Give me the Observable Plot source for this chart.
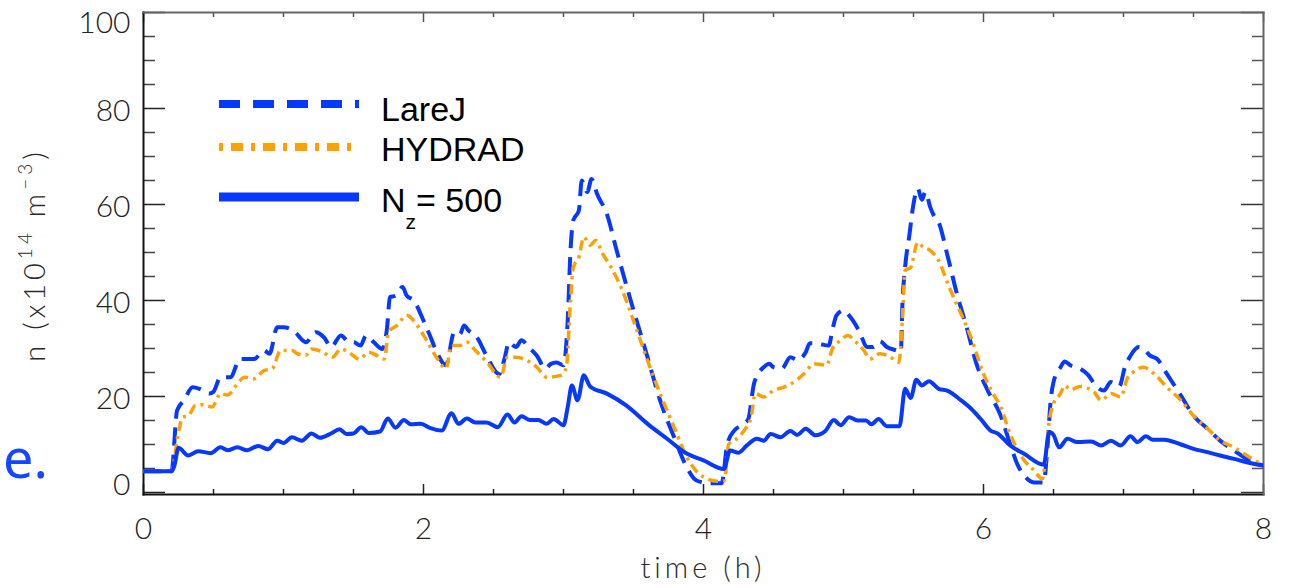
<!DOCTYPE html>
<html><head><meta charset="utf-8">
<script src="https://cdn.jsdelivr.net/npm/d3@7"></script>
<script src="https://cdn.jsdelivr.net/npm/@observablehq/plot@0.6"></script>
<style>
body{margin:0;background:#fff;}
#chart{position:relative;width:1289px;height:588px;}
</style></head><body><div id="chart"></div>
<script>
// ---- data (time in hours, density in 1e14 m^-3) ----
const larejT = [0,0.2,0.24,0.29,0.35,0.4,0.47,0.5,0.55,0.62,0.69,0.79,0.86,0.9,0.955,1.0,1.07,1.16,1.23,1.29,1.34,1.41,1.47,1.5,1.55,1.59,1.645,1.705,1.74,1.76,1.8,1.85,1.88,1.93,2.0,2.05,2.1,2.16,2.22,2.26,2.29,2.32,2.38,2.45,2.54,2.58,2.61,2.66,2.7,2.75,2.81,2.87,2.91,2.95,3.0,3.03,3.05,3.07,3.11,3.13,3.17,3.2,3.24,3.31,3.38,3.48,3.6,3.69,3.79,3.88,3.95,4.05,4.13,4.17,4.22,4.29,4.32,4.36,4.39,4.43,4.47,4.5,4.56,4.62,4.67,4.73,4.76,4.82,4.895,4.92,4.95,5.0,5.05,5.11,5.17,5.21,5.26,5.31,5.38,5.41,5.42,5.44,5.47,5.5,5.53,5.56,5.585,5.62,5.645,5.68,5.74,5.81,5.88,5.95,6.03,6.12,6.19,6.24,6.3,6.36,6.43,6.455,6.48,6.5,6.55,6.58,6.62,6.69,6.75,6.8,6.86,6.91,6.97,7.01,7.05,7.11,7.14,7.19,7.24,7.31,7.41,7.5,7.6,7.69,7.79,7.88,8.0];
const larejN = [4.4,4.4,17.1,19.2,21.9,21.6,20.6,21.0,24.0,24.0,27.8,27.8,29.6,28.9,34.4,34.4,33.75,31.3,33.4,32.3,30.3,32.7,31.3,31.3,30.6,32.7,31.3,29.9,34.4,40.7,41.0,42.8,41.0,40.0,35.8,32.4,28.9,26.5,33.4,33.0,34.8,33.8,32.4,28.5,24.7,28.0,31.3,30.3,31.7,30.3,28.5,25.8,26.8,27.1,26.5,35.8,50.4,56.7,58.75,65.0,62.6,65.3,62.2,58.0,50.4,40.0,28.2,19.2,11.5,5.3,2.5,1.9,1.9,10.1,12.9,14.3,15.3,22.6,24.7,26.1,26.8,26.1,25.8,28.2,27.6,29.2,31.1,31.0,30.6,33.75,36.9,37.9,36.5,33.75,30.3,30.3,31.5,30.3,29.6,29.3,38.6,46.9,53.5,60.1,63.3,61.0,62.6,59.4,57.7,56.3,49.7,41.4,34.4,26.8,21.25,16.2,10.1,6.0,3.2,2.1,2.1,8.75,19.2,23.0,26.1,27.3,26.5,25.8,24.4,22.3,21.25,23.0,22.1,26.1,28.5,30.3,30.0,28.5,27.8,24.7,20.2,16.0,13.3,10.8,8.75,7.0,5.6];

const hydradT = [0,0.2,0.25,0.28,0.32,0.37,0.42,0.49,0.55,0.6,0.67,0.72,0.79,0.86,0.92,0.98,1.06,1.1,1.16,1.2,1.27,1.35,1.41,1.48,1.54,1.61,1.65,1.72,1.75,1.81,1.88,1.955,2.03,2.1,2.16,2.2,2.26,2.31,2.37,2.455,2.55,2.6,2.66,2.74,2.81,2.88,2.98,3.02,3.05,3.07,3.11,3.145,3.19,3.23,3.28,3.34,3.41,3.5,3.6,3.69,3.79,3.88,4.0,4.1,4.15,4.18,4.22,4.29,4.34,4.37,4.43,4.5,4.58,4.67,4.72,4.79,4.88,4.92,4.98,5.03,5.09,5.145,5.19,5.26,5.33,5.395,5.42,5.44,5.48,5.53,5.57,5.62,5.68,5.75,5.84,5.91,6.0,6.07,6.12,6.19,6.29,6.36,6.42,6.44,6.47,6.5,6.55,6.58,6.62,6.69,6.79,6.84,6.91,6.98,7.03,7.07,7.14,7.22,7.31,7.41,7.5,7.6,7.69,7.79,7.88,8.0];
const hydradN = [4.4,4.4,12.6,15.7,16.0,18.1,18.3,17.8,20.6,20.3,22.6,24.0,23.7,25.4,25.8,29.6,29.6,28.9,28.6,29.9,29.4,28.2,29.9,28.9,27.8,29.2,28.8,27.8,33.4,34.8,36.9,34.8,31.3,27.8,25.8,30.6,30.6,31.3,29.6,27.1,24.0,28.2,28.2,27.5,26.1,24.0,24.4,26.0,40.0,46.9,49.0,53.2,51.5,52.5,49.7,46.9,42.8,35.8,27.5,20.6,13.6,7.4,3.2,2.35,2.5,10.1,10.8,12.9,15.7,20.6,19.9,21.25,22.0,23.5,24.8,26.8,26.5,29.9,31.7,32.7,31.3,29.6,27.8,28.9,28.3,27.1,35.8,46.25,46.9,52.1,51.1,50.4,48.3,43.1,37.2,32.4,24.7,20.5,18.0,12.2,6.7,4.6,2.85,6.0,15.0,18.5,20.6,22.3,21.4,22.1,20.9,19.2,20.6,19.9,24.0,25.1,26.1,24.7,21.9,19.2,16.0,13.3,10.8,9.4,7.7,5.6];

const nzT = [0,0.2,0.22,0.25,0.32,0.39,0.48,0.55,0.6,0.67,0.74,0.82,0.89,0.955,1.0,1.06,1.13,1.2,1.26,1.34,1.4,1.45,1.5,1.555,1.61,1.69,1.745,1.8,1.86,1.91,1.98,2.05,2.13,2.2,2.25,2.31,2.37,2.45,2.53,2.6,2.65,2.7,2.76,2.82,2.88,2.93,3.0,3.03,3.06,3.1,3.145,3.19,3.31,3.45,3.6,3.74,3.88,4.0,4.145,4.19,4.25,4.31,4.38,4.43,4.48,4.55,4.62,4.67,4.73,4.8,4.87,4.93,4.98,5.04,5.1,5.16,5.2,5.25,5.31,5.4,5.44,5.48,5.52,5.56,5.61,5.68,5.74,5.84,5.91,5.98,6.05,6.1,6.19,6.29,6.43,6.47,6.5,6.54,6.6,6.67,6.77,6.84,6.91,6.98,7.05,7.1,7.16,7.21,7.29,7.41,7.5,7.6,7.69,7.79,7.88,8.0];
const nzN = [4.4,4.4,5.5,9.3,7.7,8.6,8.2,9.4,8.8,9.4,8.8,9.7,9.0,10.8,10.3,11.5,10.8,12.3,11.4,12.3,13.2,12.2,12.3,13.6,12.4,12.7,15.4,13.5,15.1,14.2,14.3,13.4,12.9,16.5,14.3,15.4,14.6,14.6,13.6,16.25,14.6,15.9,15.1,15.1,14.3,15.3,14.0,17.8,22.3,19.2,24.4,22.1,20.6,18.1,14.3,11.2,8.1,6.7,4.9,8.75,8.3,9.8,11.2,10.8,12.2,11.5,12.8,12.0,13.3,11.9,12.8,15.1,14.0,15.7,15.0,15.0,14.2,15.3,13.8,13.8,21.6,19.7,23.5,22.3,23.2,21.6,21.2,19.2,17.5,15.3,12.9,12.3,9.8,8.06,5.8,12.6,12.0,9.4,11.2,10.5,10.6,9.8,10.8,9.8,11.7,10.5,11.7,11.0,11.0,10.0,9.1,8.4,7.7,7.0,6.3,5.6];

const xMajorTicks = [0,2,4,6,8];
const xMinorTicks = [0.5,1,1.5,2.5,3,3.5,4.5,5,5.5,6.5,7,7.5];
const yMajorTicks = [0,20,40,60,80,100];
const yMinorTicks = [5,10,15,25,30,35,45,50,55,65,70,75,85,90,95];
const seriesNames = ["LareJ","HYDRAD","N_z= 500"];

const toRows = (T, N) => T.map((t, i) => ({t, n: N[i]}));
const larej = toRows(larejT, larejN);
const hydrad = toRows(hydradT, hydradN);
const nz = toRows(nzT, nzN);

const W = 1289, H = 588;
const mL = 143, mR = 26, mT = 12, mB = 94;
const pw = W - mL - mR, ph = H - mT - mB;
const BLUE = "#0638ff", ORANGE = "#ffa000";
const TF = "Lato, 'DejaVu Sans', sans-serif";

const axStyle = {tickSize: 0, fontSize: 30, fontWeight: 300, fill: "#222", label: null, tickFormat: d => String(d)};
const lineStyle = {x: "t", y: "n", curve: "monotone-x", strokeLinecap: "butt", strokeLinejoin: "round"};

const svg = Plot.plot({
  width: W, height: H,
  marginLeft: mL, marginRight: mR, marginTop: mT, marginBottom: mB,
  style: {fontFamily: TF, background: "#fff", overflow: "visible"},
  x: {domain: [0, 8]},
  y: {domain: [-0.42, 100]},
  marks: [
    // ticks on all four sides, pointing inward
    Plot.tickX(xMajorTicks, {x: d => d, insetTop: ph - 10, stroke: "#222", strokeWidth: 1.5}),
    Plot.tickX(xMinorTicks, {x: d => d, insetTop: ph - 5, stroke: "#222", strokeWidth: 1.5}),
    Plot.tickX(xMajorTicks, {x: d => d, insetBottom: ph - 10, stroke: "#555", strokeWidth: 1.5}),
    Plot.tickX(xMinorTicks, {x: d => d, insetBottom: ph - 5, stroke: "#555", strokeWidth: 1.5}),
    Plot.tickY(yMajorTicks, {y: d => d, insetRight: pw - 22, stroke: "#222", strokeWidth: 1.5}),
    Plot.tickY(yMinorTicks, {y: d => d, insetRight: pw - 12, stroke: "#444", strokeWidth: 1.5}),
    Plot.tickY(yMajorTicks, {y: d => d, insetLeft: pw - 22, stroke: "#333", strokeWidth: 1.5}),
    Plot.tickY(yMinorTicks, {y: d => d, insetLeft: pw - 11, stroke: "#555", strokeWidth: 1.5}),
    // frame
    Plot.frame({anchor: "left", stroke: "#111", strokeWidth: 2}),
    Plot.frame({anchor: "bottom", stroke: "#111", strokeWidth: 2}),
    Plot.frame({anchor: "top", stroke: "#666", strokeWidth: 2}),
    Plot.frame({anchor: "right", stroke: "#666", strokeWidth: 2}),
    // axes labels
    Plot.axisX(xMajorTicks, {...axStyle, tickPadding: 23}),
    Plot.axisY([0], {...axStyle, tickPadding: 13, dy: -7}),
    Plot.axisY([20, 40, 60, 80], {...axStyle, tickPadding: 13, dy: 3}),
    Plot.axisY([100], {...axStyle, tickPadding: 13, dy: 11}),
    // data
    Plot.line(larej, {...lineStyle, stroke: BLUE, strokeWidth: 4, strokeDasharray: "18,9"}),
    Plot.line(hydrad, {...lineStyle, stroke: ORANGE, strokeWidth: 3.5, strokeDasharray: "10,5,3,5"}),
    Plot.line(nz, {...lineStyle, stroke: BLUE, strokeWidth: 4})
  ]
});

const s = d3.select(svg);
// axis titles
s.append("text")
  .attr("x", mL + pw / 2).attr("y", 578)
  .attr("text-anchor", "middle")
  .style("font-family", TF).style("font-size", "29px").style("font-weight", 300)
  .style("letter-spacing", "4px").attr("fill", "#2a2a2a")
  .text("time (h)");

const yl = s.append("text")
  .attr("transform", "translate(45,255) rotate(-90)")
  .attr("text-anchor", "middle")
  .style("font-family", TF).style("font-size", "29px").style("font-weight", 300)
  .style("letter-spacing", "4px").attr("fill", "#2a2a2a");
yl.append("tspan").text("n (x10");
yl.append("tspan").attr("dy", -13).style("font-size", "19px").text("14");
yl.append("tspan").attr("dy", 13).text(" m");
yl.append("tspan").attr("dy", -13).style("font-size", "19px").text("\u22123");
yl.append("tspan").attr("dy", 13).text(")");

// panel letter
s.append("text").attr("x", 3).attr("y", 478).attr("text-anchor", "start")
  .style("font-family", "'Noto Sans', sans-serif").style("font-size", "54px")
  .attr("fill", "#1248ff").text("e.");

// legend
const LF = "'Liberation Sans', Arial, sans-serif";
const legendRows = [
  {name: seriesNames[0], y: 104, stroke: BLUE, dash: "21,13", w: 8},
  {name: seriesNames[1], y: 147, stroke: ORANGE, dash: "4,8,12,8", w: 8},
  {name: seriesNames[2], y: 197, stroke: BLUE, dash: null, w: 9}
];
legendRows.forEach(r => {
  const ln = s.append("line").attr("x1", 219).attr("x2", 359).attr("y1", r.y).attr("y2", r.y)
    .attr("stroke", r.stroke).attr("stroke-width", r.w);
  if (r.dash) ln.attr("stroke-dasharray", r.dash);
});
const lt = (y) => s.append("text").attr("x", 381).attr("y", y).attr("text-anchor", "start")
  .style("font-family", LF).style("font-size", "34px").attr("fill", "#000");
lt(121).text(seriesNames[0]);
lt(161).text(seriesNames[1]);
const nzt = lt(212);
nzt.append("tspan").text("N");
nzt.append("tspan").attr("dy", 17).style("font-size", "21px").text("z");
nzt.append("tspan").attr("dy", -17).text("= 500");

document.getElementById("chart").appendChild(svg);
</script></body></html>
